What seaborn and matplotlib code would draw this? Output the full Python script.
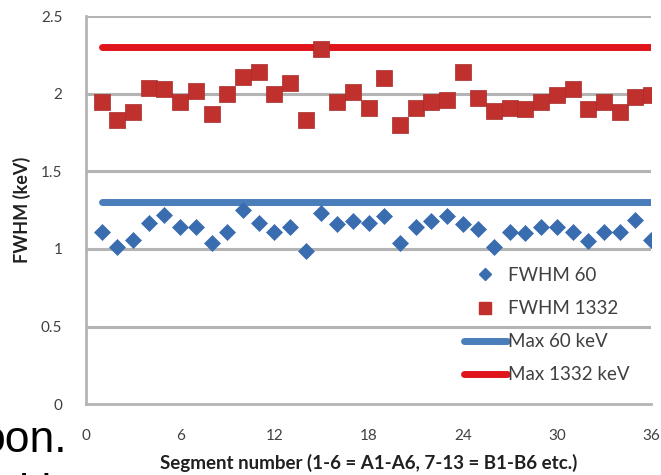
import matplotlib
matplotlib.use("Agg")
import matplotlib.pyplot as plt
from matplotlib.lines import Line2D
import seaborn as sns
import pandas as pd

sns.set_theme(style="white")
plt.rcParams["font.family"] = ["Lato", "DejaVu Sans"]

segments = list(range(1, 37))
fwhm_60 = [1.11, 1.01, 1.06, 1.17, 1.22, 1.14, 1.14, 1.04, 1.11, 1.25, 1.17, 1.11,
           1.14, 0.99, 1.23, 1.16, 1.18, 1.17, 1.21, 1.04, 1.14, 1.18, 1.21, 1.16,
           1.13, 1.01, 1.11, 1.10, 1.14, 1.14, 1.11, 1.05, 1.11, 1.11, 1.19, 1.06]
fwhm_1332 = [1.95, 1.83, 1.88, 2.04, 2.03, 1.95, 2.02, 1.87, 2.00, 2.11, 2.14, 2.00,
             2.07, 1.83, 2.29, 1.95, 2.01, 1.91, 2.10, 1.80, 1.91, 1.95, 1.96, 2.14,
             1.97, 1.89, 1.91, 1.90, 1.95, 1.99, 2.03, 1.90, 1.95, 1.88, 1.98, 1.99]
max_60 = 1.3
max_1332 = 2.3

y_ticks = [0, 0.5, 1, 1.5, 2, 2.5]
x_ticks = [0, 6, 12, 18, 24, 30, 36]

df = pd.DataFrame({"segment": segments, "fwhm60": fwhm_60, "fwhm1332": fwhm_1332,
                   "max60": [max_60] * len(segments), "max1332": [max_1332] * len(segments)})

blue_line = "#4a7ebb"
red_line = "#e0151b"
blue_pt = "#3a6cb0"
red_pt = "#c0312e"
grey = "#b4b4b4"
txt = "#404040"

fig = plt.figure(figsize=(6.61, 4.75), dpi=100)
ax = fig.add_axes([0.130, 0.149, 0.855, 0.817])

for yv in y_ticks[1:]:
    ax.axhline(yv, color=grey, lw=2.2, zorder=0)

sns.lineplot(data=df, x="segment", y="max60", ax=ax, color=blue_line, lw=5,
             solid_capstyle="round", zorder=2)
sns.lineplot(data=df, x="segment", y="max1332", ax=ax, color=red_line, lw=5,
             solid_capstyle="round", zorder=2)
sns.scatterplot(data=df, x="segment", y="fwhm60", ax=ax, marker="D", s=66,
                color=blue_pt, edgecolor=blue_pt, linewidth=0.5, zorder=3)
sns.scatterplot(data=df, x="segment", y="fwhm1332", ax=ax, marker="s", s=118,
                color=red_pt, edgecolor="#a82a28", linewidth=0.5, zorder=3)

ax.set_xlim(0, 36)
ax.set_ylim(0, 2.5)
ax.set_xticks(x_ticks)
ax.set_yticks(y_ticks)
ax.set_yticklabels(["0", "0.5", "1", "1.5", "2", "2.5"])
ax.tick_params(axis="both", labelsize=11, colors=grey, labelcolor=txt,
               length=5, width=1.5, direction="out")
ax.tick_params(axis="x", pad=14, direction="inout", length=8)
ax.tick_params(axis="y", pad=12)
for side in ["top", "right"]:
    ax.spines[side].set_visible(False)
for side in ["left", "bottom"]:
    ax.spines[side].set_color(grey)
    ax.spines[side].set_linewidth(2)

ax.set_xlabel("Segment number (1-6 = A1-A6, 7-13 = B1-B6 etc.)", fontsize=13.5,
              fontweight="bold", color="#202020", labelpad=8)
ax.set_ylabel("FWHM (keV)", fontsize=13, fontweight="bold", color="#202020")
ax.yaxis.set_label_coords(-0.097, 0.5)

handles = [
    Line2D([], [], ls="none", marker="D", ms=6.5, color=blue_pt),
    Line2D([], [], ls="none", marker="s", ms=9, color=red_pt),
    Line2D([], [], color=blue_line, lw=5, solid_capstyle="round"),
    Line2D([], [], color=red_line, lw=5, solid_capstyle="round"),
]
labels = ["FWHM 60", "FWHM 1332", "Max 60 keV", "Max 1332 keV"]
leg = ax.legend(handles, labels, loc="lower left", bbox_to_anchor=(0.645, 0.02),
                frameon=False, fontsize=13.5, handlelength=2.3, handletextpad=0.05,
                labelspacing=0.86, borderpad=0.2)
for t in leg.get_texts():
    t.set_color(txt)

fig.text(-0.03, 0.048, "oon.", fontsize=32, family="Liberation Sans", color="black",
         ha="left", va="baseline")
fig.text(-0.02, -0.064, "with", fontsize=32, family="Liberation Sans", color="black",
         ha="left", va="baseline")

fig.savefig("out.png", dpi=100)
